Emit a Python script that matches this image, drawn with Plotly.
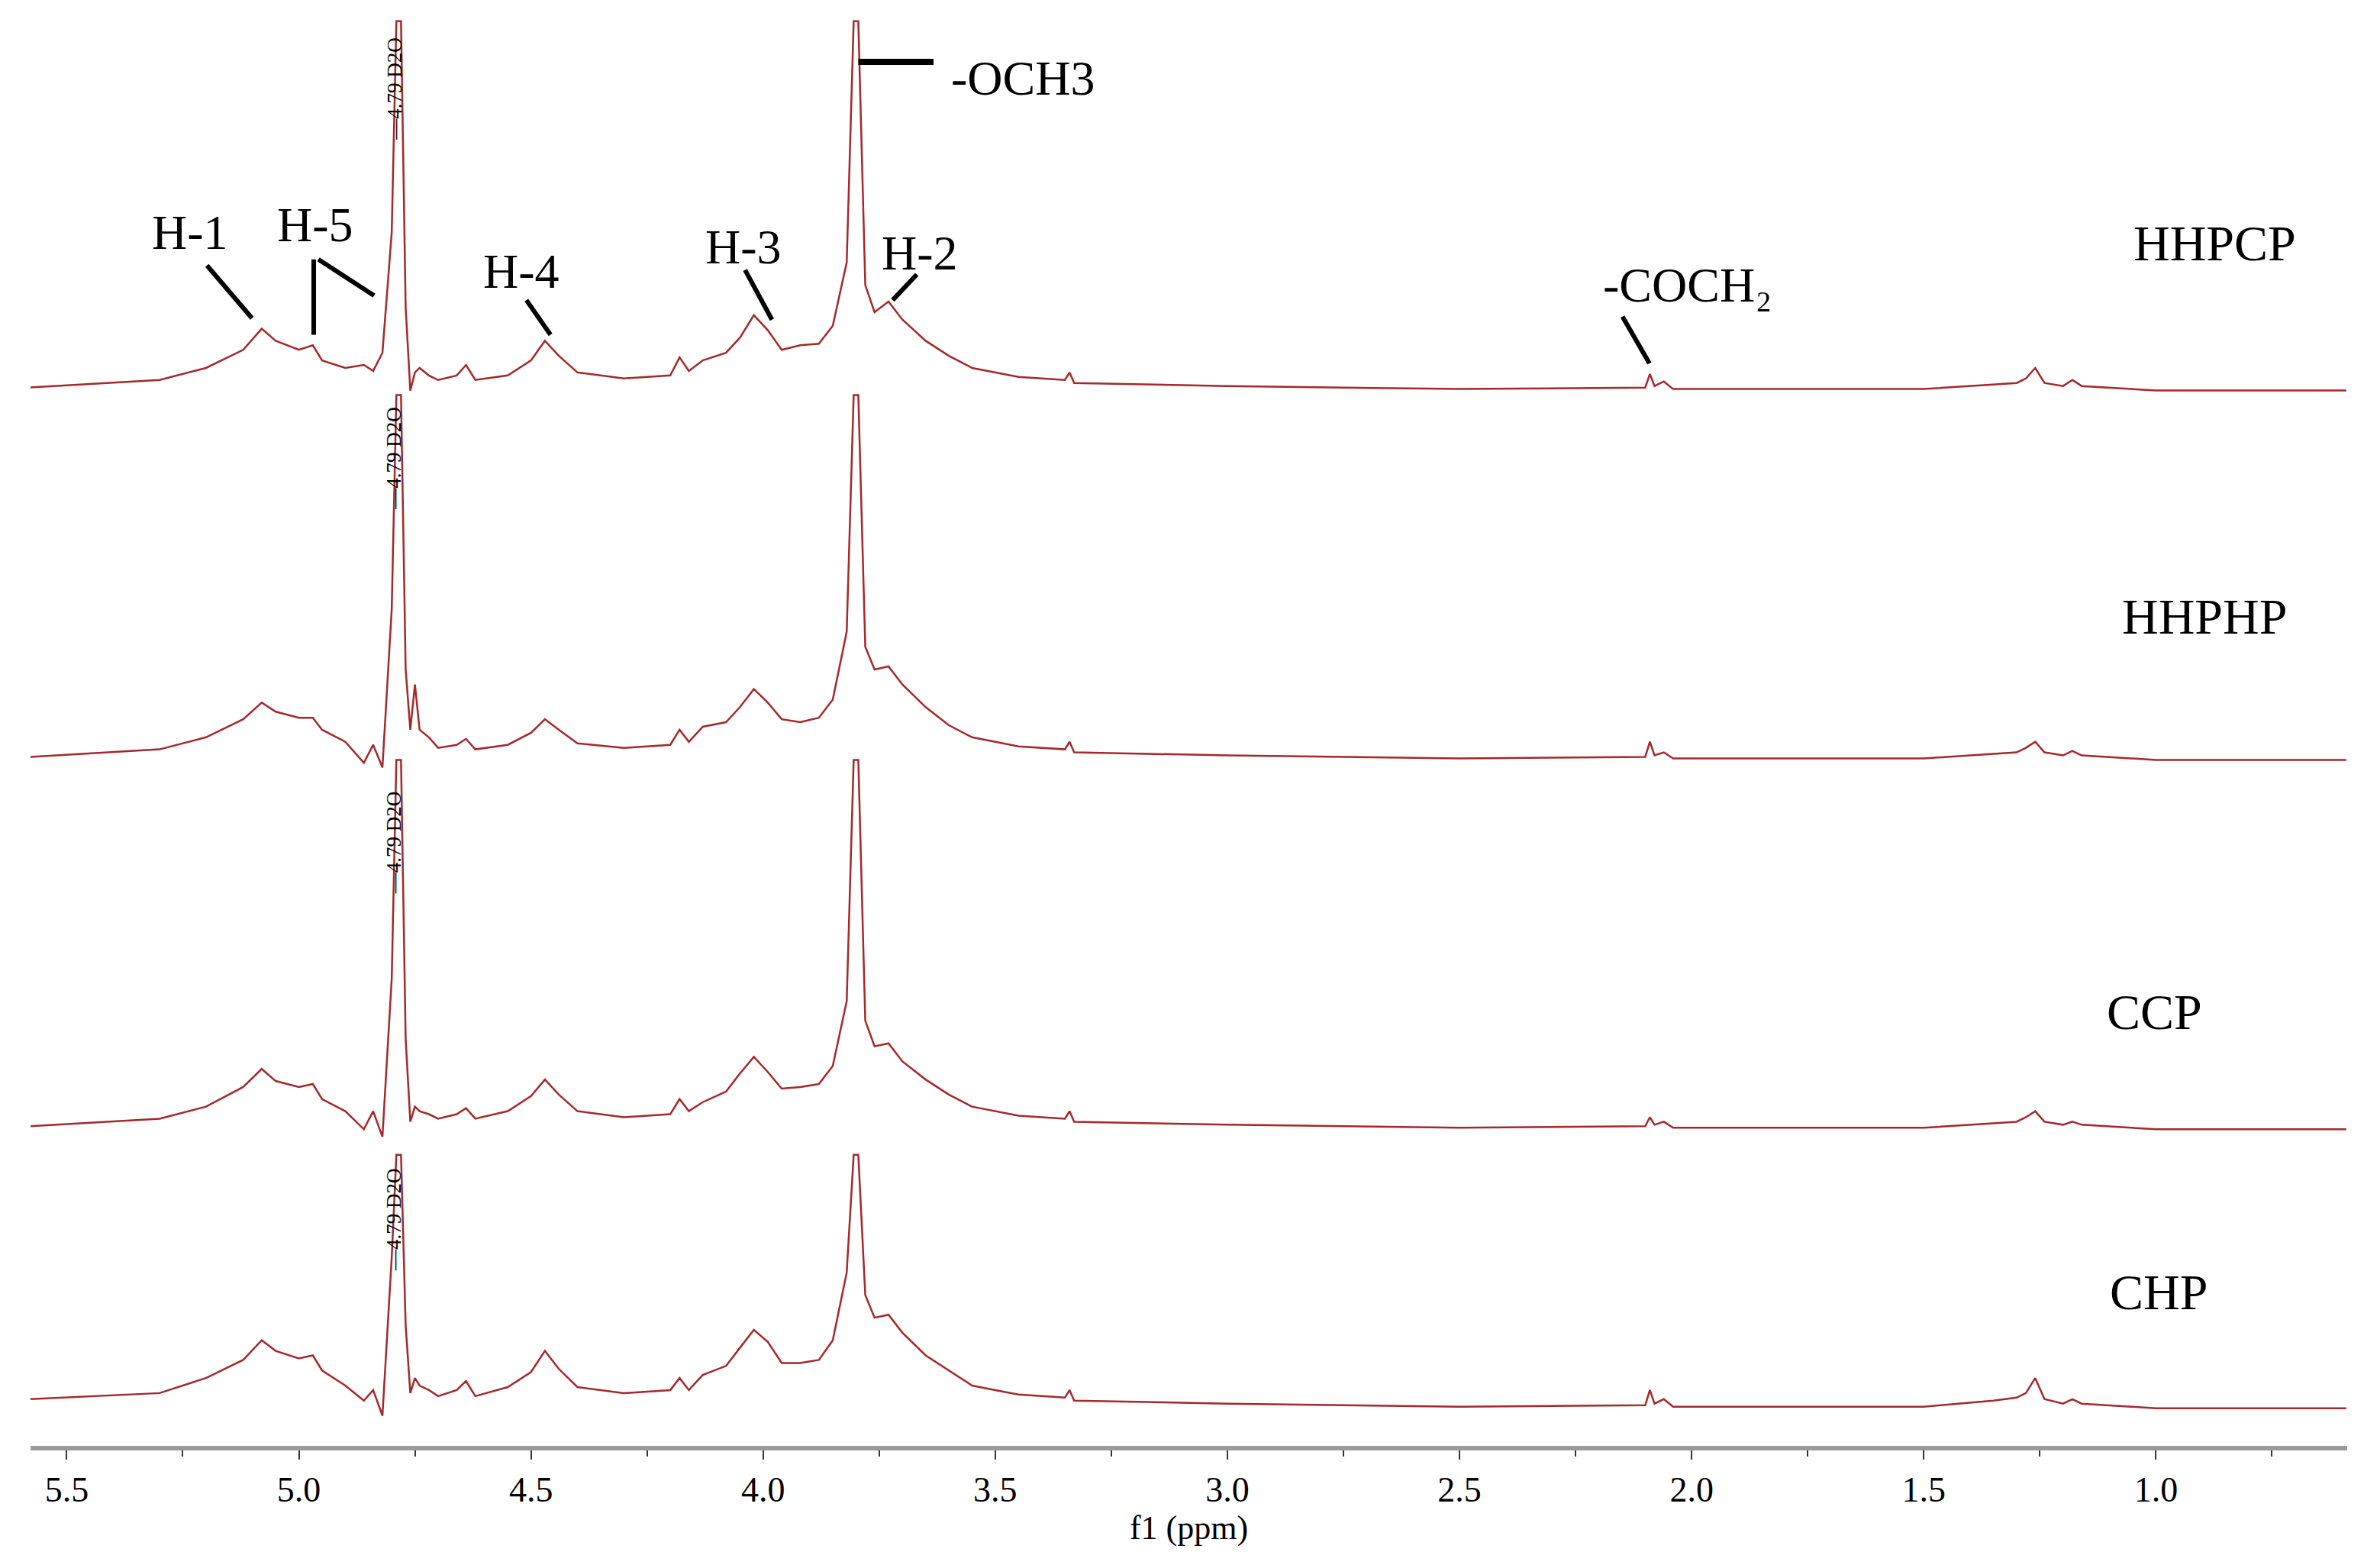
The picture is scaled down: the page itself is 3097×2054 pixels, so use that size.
import plotly.graph_objects as go

# chemical shift grid (ppm) and peak heights above each trace's baseline (arbitrary units)
ppm = [5.58,5.30,5.20,5.12,5.08,5.05,5.00,4.97,4.95,4.90,4.86,4.84,4.82,4.80,4.79,4.78,4.77,4.76,4.75,4.74,4.72,4.70,4.66,4.64,4.62,4.55,4.50,4.47,4.44,4.40,4.30,4.20,4.18,4.16,4.13,4.08,4.05,4.02,3.99,3.96,3.92,3.88,3.85,3.82,3.805,3.80,3.795,3.78,3.76,3.73,3.70,3.65,3.60,3.55,3.50,3.45,3.35,3.34,3.33,3.00,2.50,2.10,2.09,2.08,2.06,2.04,1.50,1.35,1.30,1.28,1.26,1.24,1.20,1.18,1.16,1.00,0.59]

hhpcp = [2,7,15,27,41,33,27,30,20,15,17,13,25,105,600,520,55,0,12,15,10,7,10,17,7,10,20,33,23,12,8,10,22,13,20,25,35,50,40,27,30,31,43,85,500,900,500,70,52,59,47,33,23,15,12,9,7,12,5,3,1,2,11,3,6,1,1,4,5,8,15,5,3,7,3,0,0]
hhphp = [2,7,15,27,38,32,28,28,20,12,-2,10,-5,100,600,520,60,20,50,20,15,8,10,14,7,10,18,27,20,11,8,10,20,12,22,25,35,47,38,27,25,28,40,85,500,900,500,75,60,62,50,35,23,15,12,9,7,12,5,3,1,2,12,3,5,1,1,4,5,8,12,5,3,6,3,0,0]
ccp = [2,7,15,28,40,32,28,30,20,12,0,12,-5,100,600,520,60,5,15,12,10,7,10,14,7,12,22,33,23,12,8,10,20,12,18,25,37,48,38,27,28,30,42,85,500,900,500,72,55,57,45,33,23,15,12,9,7,12,5,3,1,2,8,3,5,1,1,4,5,8,12,5,3,5,3,0,0]
chp = [6,10,20,32,45,38,33,35,25,15,5,12,-5,100,600,520,55,10,20,15,12,8,12,18,8,14,24,38,26,14,10,12,20,12,22,28,40,52,44,30,30,32,45,90,500,900,500,75,60,62,50,35,25,15,12,9,7,12,5,3,1,2,12,3,6,1,1,5,7,10,20,6,3,6,3,0,0]

names = ["HHPCP", "HHPHP", "CCP", "CHP"]
series = [hhpcp, hhphp, ccp, chp]
baselines = [700, 455, 210, 25]   # vertical stacking offsets
caps = [245, 242, 245, 168]       # height at which each trace leaves its panel

RED = "#A3292B"
fig = go.Figure()
for s, b, c in zip(series, baselines, caps):
    fig.add_trace(go.Scatter(x=ppm, y=[b + min(v, c) for v in s], mode="lines",
                             line=dict(color=RED, width=2.5), showlegend=False, hoverinfo="skip"))

FONT = "Liberation Serif"
def yd(d):
    return 955 - d

anns = []
label_pos = [(5.234, 150, "H-1"), (4.964, 145, "H-5"), (4.52, 176, "H-4"), (4.042, 160, "H-3"), (3.662, 164, "H-2"),
             (3.44, 48, "-OCH3"), (2.01, 185, "-COCH₂")]
for x, y, t in label_pos:
    anns.append(dict(x=x, y=yd(y), text=t, showarrow=False, font=dict(family=FONT, size=64, color="black")))
for (x, y, t) in [(0.873, 157, "HHPCP"), (0.896, 405, "HHPHP"), (1.003, 667, "CCP"), (0.994, 853, "CHP")]:
    anns.append(dict(x=x, y=yd(y), text=t, showarrow=False, font=dict(family=FONT, size=66, color="black")))
for y in [55, 300, 555, 805]:
    anns.append(dict(x=4.795, y=yd(y), text="—4.79 D2O", textangle=-90, showarrow=False,
                     font=dict(family=FONT, size=27, color="black")))

shapes = []
seg = [((5.198, 172), (5.101, 207)), ((4.968, 168), (4.968, 218)), ((4.958, 168), (4.838, 192)),
       ((4.510, 195), (4.458, 218)), ((4.039, 175), (3.981, 208)), ((3.669, 178), (3.721, 195)),
       ((2.149, 206), (2.091, 237))]
for (x0, y0), (x1, y1) in seg:
    shapes.append(dict(type="line", x0=x0, y0=yd(y0), x1=x1, y1=yd(y1), line=dict(color="black", width=6)))
shapes.append(dict(type="line", x0=3.795, y0=yd(37), x1=3.633, y1=yd(37), line=dict(color="black", width=8)))

fig.update_layout(width=3097, height=2054, paper_bgcolor="white", plot_bgcolor="white",
                  margin=dict(l=32, r=30, t=0, b=168), annotations=anns, shapes=shapes,
                  font=dict(family=FONT, color="black"))
fig.update_xaxes(range=[5.578, 0.588], tickvals=[5.5,5.0,4.5,4.0,3.5,3.0,2.5,2.0,1.5,1.0],
                 ticktext=["5.5","5.0","4.5","4.0","3.5","3.0","2.5","2.0","1.5","1.0"],
                 ticks="outside", ticklen=12, tickwidth=2, tickcolor="#333",
                 minor=dict(tickvals=[5.25,4.75,4.25,3.75,3.25,2.75,2.25,1.75,1.25,0.75], ticks="outside", ticklen=8, tickwidth=2, tickcolor="#333"),
                 showline=True, linecolor="#9a9a9a", linewidth=6, showgrid=False, zeroline=False,
                 tickfont=dict(family=FONT, size=46),
                 title=dict(text="f1 (ppm)", font=dict(family=FONT, size=44), standoff=10))
fig.update_yaxes(range=[0, 955], visible=False, showgrid=False, zeroline=False)
fig.write_html("out.html")
